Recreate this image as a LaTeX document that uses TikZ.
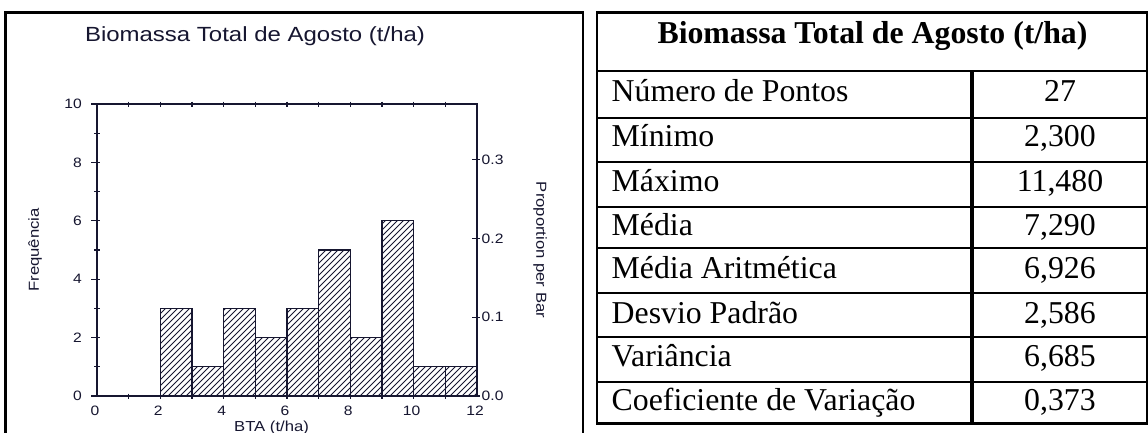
\documentclass[tikz,border=0pt]{standalone}
\usepackage{fontspec}
\usepackage{graphicx}
\setmainfont{Liberation Serif}
\newfontfamily\ars{Liberation Sans}
\newcommand\myWide[1]{\scalebox{1.15}[1]{#1}}
\definecolor{axc}{RGB}{22,22,48}
\begin{document}
\begin{tikzpicture}[x=1pt,y=-1pt,
  axis/.style={line width=1.3pt,draw=axc},
  tk/.style={line width=1.1pt,draw=axc},
  bar/.style={line width=1.3pt,draw=axc},
  hatch/.style={line width=0.75pt,draw=axc},
  frame/.style={line width=2.3pt,draw=black},
  grid/.style={line width=2pt,draw=black},
  lab/.style={font=\ars\fontsize{13.6}{14}\selectfont,inner sep=0pt,text=axc},
  atitle/.style={font=\ars\fontsize{14.5}{15}\selectfont,inner sep=0pt,text=axc},
  cell/.style={font=\fontsize{31.8}{33}\selectfont,inner sep=0pt,anchor=base west},
  val/.style={font=\fontsize{31.8}{33}\selectfont,inner sep=0pt,anchor=base},
]
\useasboundingbox (0,0) rectangle (1148,432);
\clip (0,0) rectangle (1148,432);
\fill[white] (0,0) rectangle (1148,432);

% ---------- left chart frame ----------
\draw[frame] (5.5,433) -- (5.5,12.5) -- (583,12.5) -- (583,433);

\node[font=\ars\fontsize{20.5}{22}\selectfont,inner sep=0pt,anchor=base,text=axc] (ctitle)
  at (255,41) {\scalebox{1.17}[1]{Biomassa Total de Agosto (t/ha)}};

% ---------- bars ----------
\begin{scope}
  \clip \foreach \i/\c in {2/3,3/1,4/3,5/2,6/3,7/5,8/2,9/6,10/1,11/1}
    { ({97+31.667*\i},396) rectangle ({97+31.667*(\i+1)},{396-29.2*\c}) };
  \foreach \s in {-300,-294,...,480}
    \draw[hatch] (\s,396) -- ++(300,-300);
\end{scope}
\foreach \i/\c in {2/3,3/1,4/3,5/2,6/3,7/5,8/2,9/6,10/1,11/1}
  \draw[bar] ({97+31.667*\i},396) rectangle ({97+31.667*(\i+1)},{396-29.2*\c});

% ---------- axes ----------
\draw[axis] (97,104) rectangle (477,396);

% left ticks and labels
\foreach \k in {0,2,...,10}{
  \draw[tk] (91,{396-29.2*\k}) -- (99.5,{396-29.2*\k});
  \node[lab,anchor=east] (yl\k) at (82,{396-29.2*\k}) {\myWide{\k}};
}
\foreach \k in {1,3,...,9}
  \draw[tk] (94,{396-29.2*\k}) -- (99.5,{396-29.2*\k});

% top ticks
\foreach \k in {1,...,11}
  \draw[tk] ({97+31.667*\k},101.5) -- ({97+31.667*\k},106.5);

% bottom ticks and labels
\foreach \k in {1,...,11}
  \draw[tk] ({97+31.667*\k},393.5) -- ({97+31.667*\k},398.5);
\foreach \k in {0,2,...,12}
  \node[lab] (xl\k) at ({95+31.667*\k},410.8) {\myWide{\k}};

% right ticks and labels
\foreach \p/\n in {0/0.0,1/0.1,2/0.2,3/0.3}{
  \draw[tk] (472,{396-78.84*\p}) -- (480,{396-78.84*\p});
  \node[lab,anchor=west] (pl\p) at (481.5,{396-78.84*\p}) {\myWide{\n}};
}

% axis titles
\node[atitle,rotate=90] (ytitle) at (35,250) {\myWide{Frequência}};
\node[atitle,rotate=-90] (ptitle) at (540,250) {\myWide{Proportion per Bar}};
\node[atitle,anchor=base] (xtitle) at (271.5,431) {\myWide{BTA (t/ha)}};

% ---------- table ----------
\foreach \y in {118,162.3,206.7,248.3,292.7,336.7,381.7}
  \draw[grid] (597,\y) -- (1147,\y);
\draw[line width=2.6pt] (597,71) -- (1147,71);
\draw[line width=3.4pt] (972,71) -- (972,423.5);
\draw[frame] (597,12.5) rectangle (1146.7,423.5);

\node[font=\bfseries\fontsize{31.8}{33}\selectfont,inner sep=0pt,anchor=base] (thead)
  at (872.5,43.3) {Biomassa Total de Agosto (t/ha)};

\foreach \n/\y/\a/\b in {
  r1/101.7/{Número de Pontos}/{27},
  r2/146.7/{Mínimo}/{2,300},
  r3/191.7/{Máximo}/{11,480},
  r4/235/{Média}/{7,290},
  r5/278.3/{Média Aritmética}/{6,926},
  r6/323.3/{Desvio Padrão}/{2,586},
  r7/366.7/{Variância}/{6,685},
  r8/410/{Coeficiente de Variação}/{0,373}}{
  \node[cell] (\n a) at (611.5,\y) {\a};
  \node[val] (\n b) at (1060,\y) {\b};
}
\end{tikzpicture}
\end{document}
